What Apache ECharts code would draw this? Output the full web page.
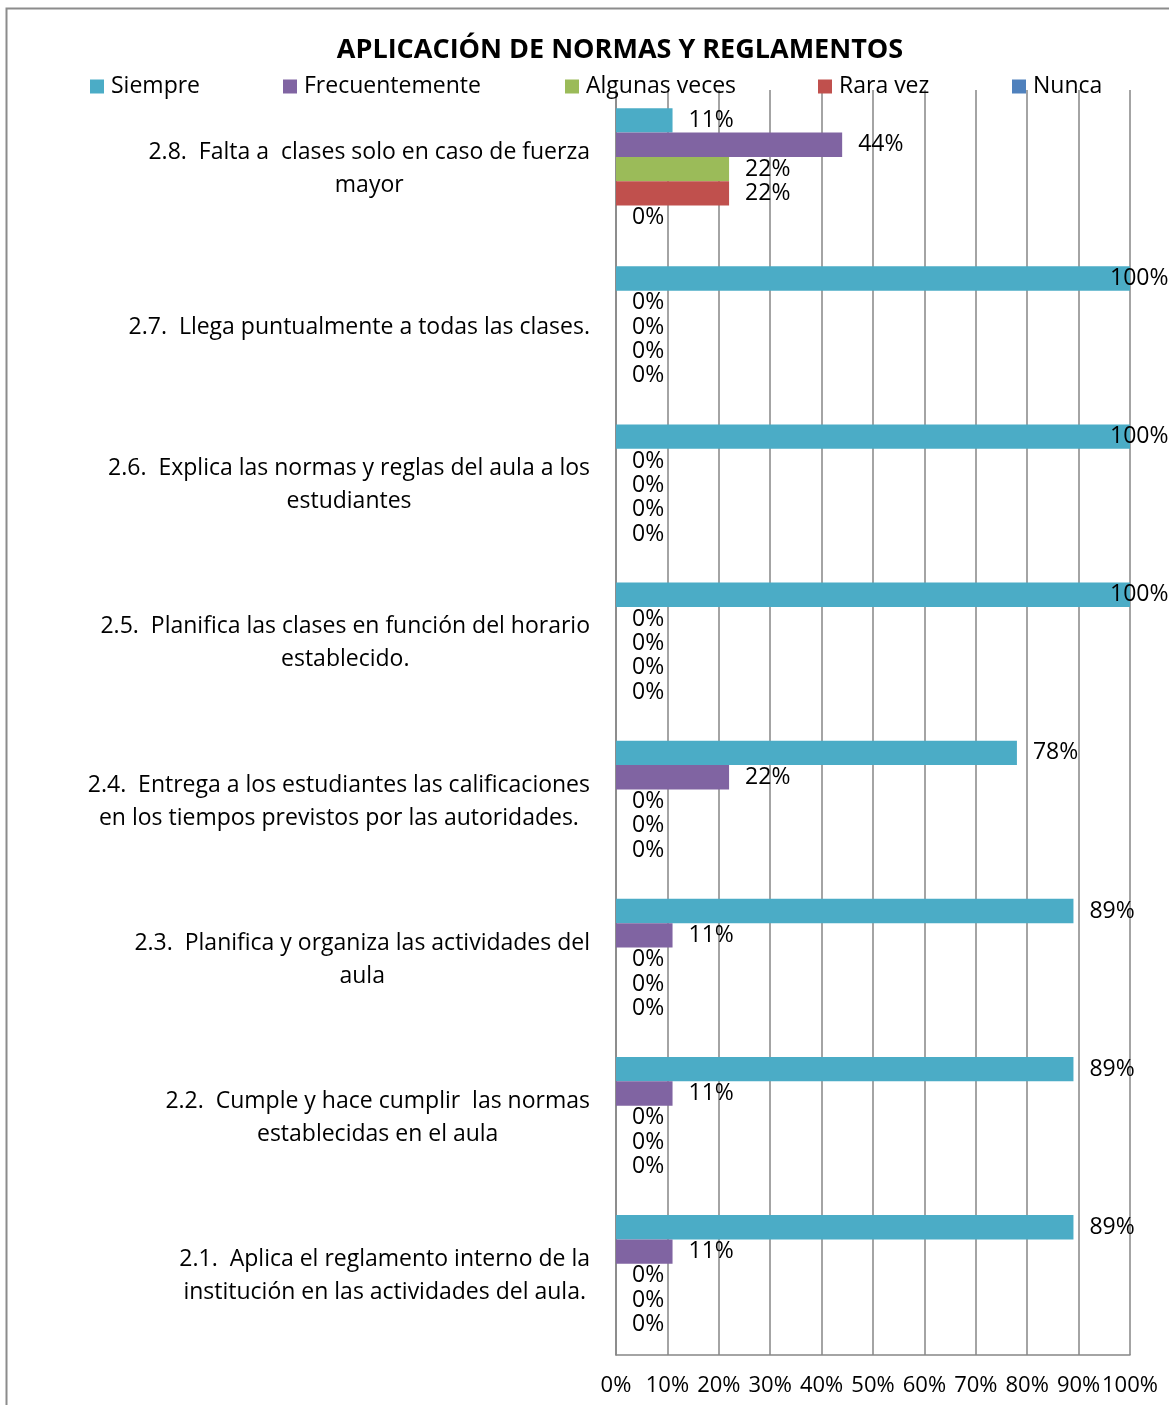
<!DOCTYPE html>
<html>
<head>
<meta charset="utf-8">
<script src="https://cdn.jsdelivr.net/npm/echarts@6/dist/echarts.min.js"></script>
<style>
  html, body { margin: 0; padding: 0; background: #fff; }
  #chart { width: 1169px; height: 1405px; }
</style>
</head>
<body>
<div id="chart"></div>
<script>
// categorías (de abajo hacia arriba)
const categories = [
  '2.1.  Aplica el reglamento interno de la\ninstitución en las actividades del aula.',
  '2.2.  Cumple y hace cumplir  las normas\nestablecidas en el aula',
  '2.3.  Planifica y organiza las actividades del\naula',
  '2.4.  Entrega a los estudiantes las calificaciones\nen los tiempos previstos por las autoridades.',
  '2.5.  Planifica las clases en función del horario\nestablecido.',
  '2.6.  Explica las normas y reglas del aula a los\nestudiantes',
  '2.7.  Llega puntualmente a todas las clases.',
  '2.8.  Falta a  clases solo en caso de fuerza\nmayor'
]

const seriesNames = ['Siempre', 'Frecuentemente', 'Algunas veces', 'Rara vez', 'Nunca']
const seriesColors = ['#4BACC6', '#8064A2', '#9BBB59', '#C0504D', '#4F81BD']

const siempre = [89, 89, 89, 78, 100, 100, 100, 11]
const frecuentemente = [11, 11, 11, 22, 0, 0, 0, 44]
const algunasVeces = [0, 0, 0, 0, 0, 0, 0, 22]
const raraVez = [0, 0, 0, 0, 0, 0, 0, 22]
const nunca = [0, 0, 0, 0, 0, 0, 0, 0]

const xTicks = [0, 10, 20, 30, 40, 50, 60, 70, 80, 90, 100]

const FONT = 'Open Sans'
const FS = 23

const chart = echarts.init(document.getElementById('chart'))

const allValues = [siempre, frecuentemente, algunasVeces, raraVez, nunca]

// la etiqueta del 100% queda dentro del área
const toData = (arr) => arr.map(v => v === 100 ? { value: v, label: { offset: [-36, 0] } } : v)

const series = seriesNames.map((name, i) => ({
  name,
  type: 'bar',
  data: toData(allValues[i]),
  barGap: '0%',
  barCategoryGap: '23%',
  itemStyle: { color: seriesColors[i] },
  label: {
    show: true,
    position: 'right',
    distance: 16,
    formatter: '{c}%',
    color: '#000',
    fontFamily: FONT,
    fontSize: FS
  }
}))

// leyendas sueltas para ubicar cada elemento
const legendX = [90, 283, 565, 818, 1012]
const legends = seriesNames.map((name, i) => ({
  data: [name],
  left: legendX[i],
  top: 75,
  padding: 0,
  icon: 'rect',
  itemWidth: 14,
  itemHeight: 14,
  itemGap: 0,
  textStyle: { fontFamily: FONT, fontSize: FS, color: '#000', padding: [0, 0, 0, 2] }
}))

const option = {
  animation: false,
  backgroundColor: '#fff',
  title: {
    text: 'APLICACIÓN DE NORMAS Y REGLAMENTOS',
    left: 615,
    top: 32,
    textAlign: 'center',
    textStyle: { fontFamily: FONT, fontSize: 27, fontWeight: 'bold', color: '#000' }
  },
  legend: legends,
  grid: { left: 616, right: 39, top: 90, bottom: 50 },
  xAxis: {
    type: 'value',
    min: 0,
    max: 100,
    interval: 10,
    axisLine: { show: true, lineStyle: { color: '#868686', width: 1.5 } },
    axisTick: { show: false },
    axisLabel: {
      margin: 20,
      fontFamily: FONT,
      fontSize: 22,
      color: '#000',
      showMinLabel: true,
      showMaxLabel: true,
      hideOverlap: false,
      formatter: (v) => xTicks.includes(v) ? v + '%' : ''
    },
    splitLine: { show: true, lineStyle: { color: '#868686', width: 1.5 } }
  },
  yAxis: {
    type: 'category',
    data: categories,
    axisLine: { show: true, lineStyle: { color: '#868686', width: 1.5 } },
    axisTick: { show: false },
    axisLabel: {
      margin: 26,
      align: 'right',
      formatter: (v) => v.split('\n').map(s => '{c|' + s + '}').join('\n'),
      rich: {
        c: { align: 'center', fontFamily: FONT, fontSize: FS, color: '#000', lineHeight: 33 }
      }
    }
  },
  graphic: [{
    type: 'rect',
    shape: { x: 6.5, y: 8.5, width: 1300, height: 1500 },
    style: { fill: null, stroke: '#8c8c8c', lineWidth: 2 },
    silent: true
  }],
  series
}

chart.setOption(option)
</script>
</body>
</html>
